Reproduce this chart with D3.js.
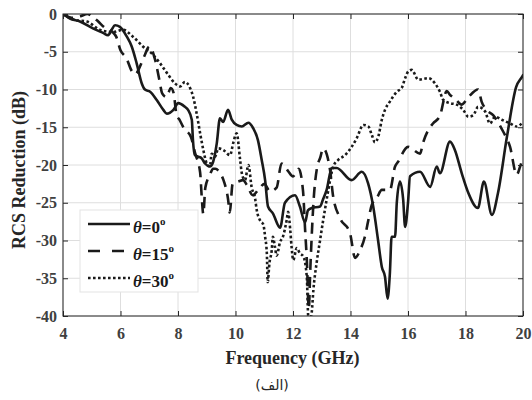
<!DOCTYPE html>
<html><head><meta charset="utf-8">
<script src="https://cdn.jsdelivr.net/npm/d3@7"></script>
<style>body{margin:0;background:#fff}</style>
</head><body><svg id="c" width="532" height="400"></svg>
<script>
// ---- data ----
const xTicks = [4, 6, 8, 10, 12, 14, 16, 18, 20];
const yTicks = [0, -5, -10, -15, -20, -25, -30, -35, -40];
const legendLabels = ["0", "15", "30"];

const f0 = [4.0,4.24,4.59,5.04,5.39,5.57,5.69,5.81,5.98,6.22,6.39,6.56,6.74,6.85,7.03,7.26,7.49,7.61,7.84,8.01,8.24,8.35,8.48,8.52,8.59,8.70,8.82,8.94,9.11,9.22,9.35,9.46,9.57,9.74,9.87,10.04,10.22,10.45,10.61,10.78,10.91,11.03,11.13,11.30,11.55,11.72,12.07,12.24,12.42,12.52,12.65,12.94,13.04,13.17,13.35,13.52,14.04,14.39,14.61,14.79,14.96,15.09,15.20,15.29,15.37,15.43,15.55,15.61,15.72,15.83,15.90,16.00,16.07,16.42,16.77,17.00,17.11,17.46,17.63,17.87,18.10,18.43,18.64,18.92,19.13,19.44,19.76,19.97,20.0];
const v0 = [0,-0.6,-1.0,-1.9,-2.5,-2.8,-2.1,-1.5,-1.7,-3.0,-4.3,-6.5,-9.2,-10.0,-10.3,-11.4,-12.7,-13.2,-12.7,-11.8,-12.3,-12.7,-14.0,-16.7,-18.7,-18.9,-19.1,-19.8,-20.2,-19.6,-17.1,-13.8,-14.3,-12.7,-14.0,-14.7,-14.9,-14.4,-15.1,-16.7,-19.3,-22.0,-25.5,-26.4,-28.3,-25.0,-24.0,-25.5,-27.6,-26.0,-25.7,-25.5,-24.6,-23.3,-20.4,-20.4,-22.0,-20.9,-22.4,-25.5,-30.0,-33.5,-34.8,-37.7,-34.3,-29.5,-29.5,-25.0,-22.2,-24.5,-28.2,-25.0,-21.5,-20.9,-22.9,-20.2,-21.1,-16.9,-18.0,-21.1,-23.7,-25.7,-22.2,-26.6,-23.7,-16.3,-9.7,-8.3,-8.1];

const f15 = [4.0,4.3,4.6,4.85,5.0,5.2,5.45,5.7,5.85,6.0,6.2,6.4,6.5,6.75,6.85,7.0,7.2,7.35,7.45,7.6,7.75,7.85,7.95,8.05,8.2,8.45,8.6,8.77,8.83,8.88,8.95,9.11,9.22,9.3,9.45,9.6,9.74,9.8,9.9,10.1,10.26,10.39,10.6,10.85,11.0,11.2,11.43,11.6,11.83,12.0,12.2,12.35,12.42,12.48,12.55,12.6,12.65,12.72,12.83,12.95,13.05,13.29,13.39,13.63,13.98,14.16,14.33,14.5,14.61,14.74,14.91,15.09,15.37,15.55,15.65,16.0,16.42,16.52,16.7,16.87,17.11,17.35,17.46,17.63,17.87,18.1,18.44,18.56,18.73,18.96,19.3,19.55,19.78,19.9,20.0];
const v15 = [0,-0.5,-0.3,0,-0.3,-0.9,-1.8,-2.3,-3.0,-4.8,-5.8,-7.6,-8.0,-6.3,-5.4,-4.3,-6.0,-8.7,-10.5,-11.0,-9.8,-10.5,-13.4,-14.0,-15.1,-16.3,-18.5,-21.0,-24.5,-26.5,-23.0,-21.3,-20.5,-20.5,-21.0,-22.2,-24.5,-26.3,-22.5,-22.2,-22.0,-22.6,-24.0,-23.0,-22.5,-23.5,-23.0,-19.8,-20.8,-21.5,-20.5,-23.5,-28.5,-32.5,-39.0,-34.0,-29.5,-24.5,-20.5,-19.0,-17.8,-20.7,-24.0,-27.0,-29.0,-32.3,-31.3,-29.5,-27.5,-25.3,-24.4,-23.3,-23.3,-20.2,-19.6,-17.6,-18.5,-17.1,-15.4,-14.5,-13.5,-10.2,-10.7,-11.2,-12.0,-11.0,-10.0,-11.6,-12.7,-13.4,-15.5,-17.6,-21.3,-20.2,-19.0];

const f30 = [4.0,4.42,4.83,5.29,5.74,6.09,6.43,6.78,7.13,7.37,7.65,7.9,8.07,8.24,8.42,8.53,8.65,8.77,8.88,9.0,9.11,9.17,9.29,9.40,9.57,9.81,9.92,10.04,10.16,10.22,10.33,10.45,10.56,10.68,10.74,10.85,10.97,11.03,11.09,11.12,11.18,11.26,11.30,11.37,11.43,11.55,11.65,11.78,11.83,11.9,11.95,12.01,12.13,12.24,12.36,12.48,12.53,12.60,12.65,12.71,12.82,12.94,13.05,13.17,13.29,13.40,13.58,13.81,14.04,14.21,14.45,14.62,14.74,14.85,14.97,15.09,15.20,15.37,15.61,15.78,15.90,16.01,16.13,16.36,16.71,16.94,17.11,17.23,17.46,17.69,17.92,18.10,18.27,18.44,18.68,18.85,19.03,19.26,19.55,19.78,20.0];
const v30 = [0,-0.8,-1.0,-2.1,-2.4,-2.1,-3.0,-4.3,-5.4,-6.5,-8.0,-9.2,-9.6,-9.0,-9.8,-11.0,-13.2,-15.8,-18.0,-19.8,-20.2,-18.5,-18.9,-17.8,-18.0,-18.7,-17.1,-15.8,-19.3,-21.1,-22.0,-20.0,-22.9,-24.4,-26.0,-27.3,-27.9,-29.5,-31.7,-35.5,-33.0,-31.3,-29.5,-30.8,-32.0,-30.2,-29.5,-27.3,-26.2,-28.4,-30.8,-32.6,-31.0,-31.7,-32.1,-34.8,-40.0,-40.5,-39.6,-36.5,-33.0,-30.0,-27.3,-24.6,-22.0,-20.2,-19.3,-18.7,-17.6,-16.5,-14.7,-14.9,-16.0,-17.0,-16.2,-14.0,-12.7,-11.6,-10.3,-9.8,-8.5,-7.6,-7.4,-8.7,-8.5,-9.2,-10.3,-11.4,-11.8,-12.0,-12.7,-13.6,-13.4,-12.3,-12.9,-14.5,-13.6,-14.0,-14.5,-14.9,-14.3];

// ---- chart ----
const svg = d3.select("#c");
const L = 63, R = 523, T = 14, B = 316;
const x = d3.scaleLinear().domain([4, 20]).range([L, R]);
const y = d3.scaleLinear().domain([-40, 0]).range([B, T]);
const serif = "'Liberation Serif','Times New Roman',serif";

// grid
const g = svg.append("g");
g.selectAll(".gx").data(xTicks).join("line")
  .attr("x1", d => x(d)).attr("x2", d => x(d)).attr("y1", T).attr("y2", B)
  .attr("stroke", "#dedede").attr("stroke-width", 1);
g.selectAll(".gy").data(yTicks).join("line")
  .attr("y1", d => y(d)).attr("y2", d => y(d)).attr("x1", L).attr("x2", R)
  .attr("stroke", "#dedede").attr("stroke-width", 1);

// clip
svg.append("clipPath").attr("id", "clip").append("rect")
  .attr("x", L).attr("y", T).attr("width", R - L).attr("height", B - T);

const series = [
  {f: f0, v: v0, dash: null, cap: "round"},
  {f: f15, v: v15, dash: "11,7", cap: "butt"},
  {f: f30, v: v30, dash: "2.6,2.4", cap: "butt"}
];
const line = d3.line().x(d => x(d[0])).y(d => y(d[1])).curve(d3.curveMonotoneX);
const lines = svg.append("g").attr("clip-path", "url(#clip)");
series.forEach(s => {
  lines.append("path")
    .datum(s.f.map((f, i) => [f, s.v[i]]))
    .attr("d", line)
    .attr("fill", "none")
    .attr("stroke", "#1a1a1a")
    .attr("stroke-width", 2.6)
    .attr("stroke-linejoin", "round")
    .attr("stroke-linecap", s.cap)
    .attr("stroke-dasharray", s.dash);
});

// axes
function style(sel) {
  sel.select(".domain").remove();
  sel.selectAll(".tick line").attr("stroke", "#262626");
  sel.selectAll(".tick text").attr("font-family", serif).attr("font-weight", "bold")
    .attr("font-size", 16).attr("fill", "#404040");
}
svg.append("g").attr("transform", `translate(0,${B})`)
  .call(d3.axisBottom(x).tickValues(xTicks).tickSize(-5).tickPadding(12).tickFormat(d => String(d)))
  .call(style);
svg.append("g").attr("transform", `translate(${L},0)`)
  .call(d3.axisLeft(y).tickValues(yTicks).tickSize(-5).tickPadding(6).tickFormat(d => String(d)))
  .call(style);
svg.append("g").attr("transform", `translate(0,${T})`)
  .call(d3.axisTop(x).tickValues(xTicks).tickSize(-5).tickFormat(""))
  .call(style);
svg.append("g").attr("transform", `translate(${R},0)`)
  .call(d3.axisRight(y).tickValues(yTicks).tickSize(-5).tickFormat(""))
  .call(style);
svg.append("rect").attr("x", L).attr("y", T).attr("width", R - L).attr("height", B - T)
  .attr("fill", "none").attr("stroke", "#262626").attr("stroke-width", 1);

// axis labels
svg.append("text").attr("x", 292.5).attr("y", 364).attr("text-anchor", "middle")
  .attr("font-family", serif).attr("font-weight", "bold").attr("font-size", 18).attr("fill", "#262626")
  .text("Frequency (GHz)");
svg.append("text").attr("transform", "translate(25,170) rotate(-90)").attr("text-anchor", "middle")
  .attr("font-family", serif).attr("font-weight", "bold").attr("font-size", 18).attr("fill", "#262626")
  .text("RCS Reduction (dB)");
svg.append("text").attr("x", 272).attr("y", 390).attr("text-anchor", "middle")
  .attr("font-family", "'DejaVu Sans','Noto Sans',sans-serif").attr("font-size", 14).attr("fill", "#262626")
  .text("(الف)");

// legend
const lg = svg.append("g");
lg.append("rect").attr("x", 80).attr("y", 210).attr("width", 118).attr("height", 82)
  .attr("fill", "#fff").attr("stroke", "#e3e3e3").attr("stroke-width", 1);
const ly = [224, 251, 278];
series.forEach((s, i) => {
  lg.append("line").attr("x1", 88).attr("x2", 130).attr("y1", ly[i]).attr("y2", ly[i])
    .attr("stroke", "#1a1a1a").attr("stroke-width", 2.6)
    .attr("stroke-dasharray", i === 1 ? "12,12" : s.dash);
  const t = lg.append("text").attr("x", 133).attr("y", ly[i] + 9)
    .attr("font-family", serif).attr("font-weight", "bold").attr("font-size", 17).attr("fill", "#1a1a1a");
  t.append("tspan").attr("font-style", "italic").text("θ");
  t.append("tspan").text("=" + legendLabels[i]);
  t.append("tspan").attr("font-size", 11).attr("dy", -8).text("o");
});
</script></body></html>
